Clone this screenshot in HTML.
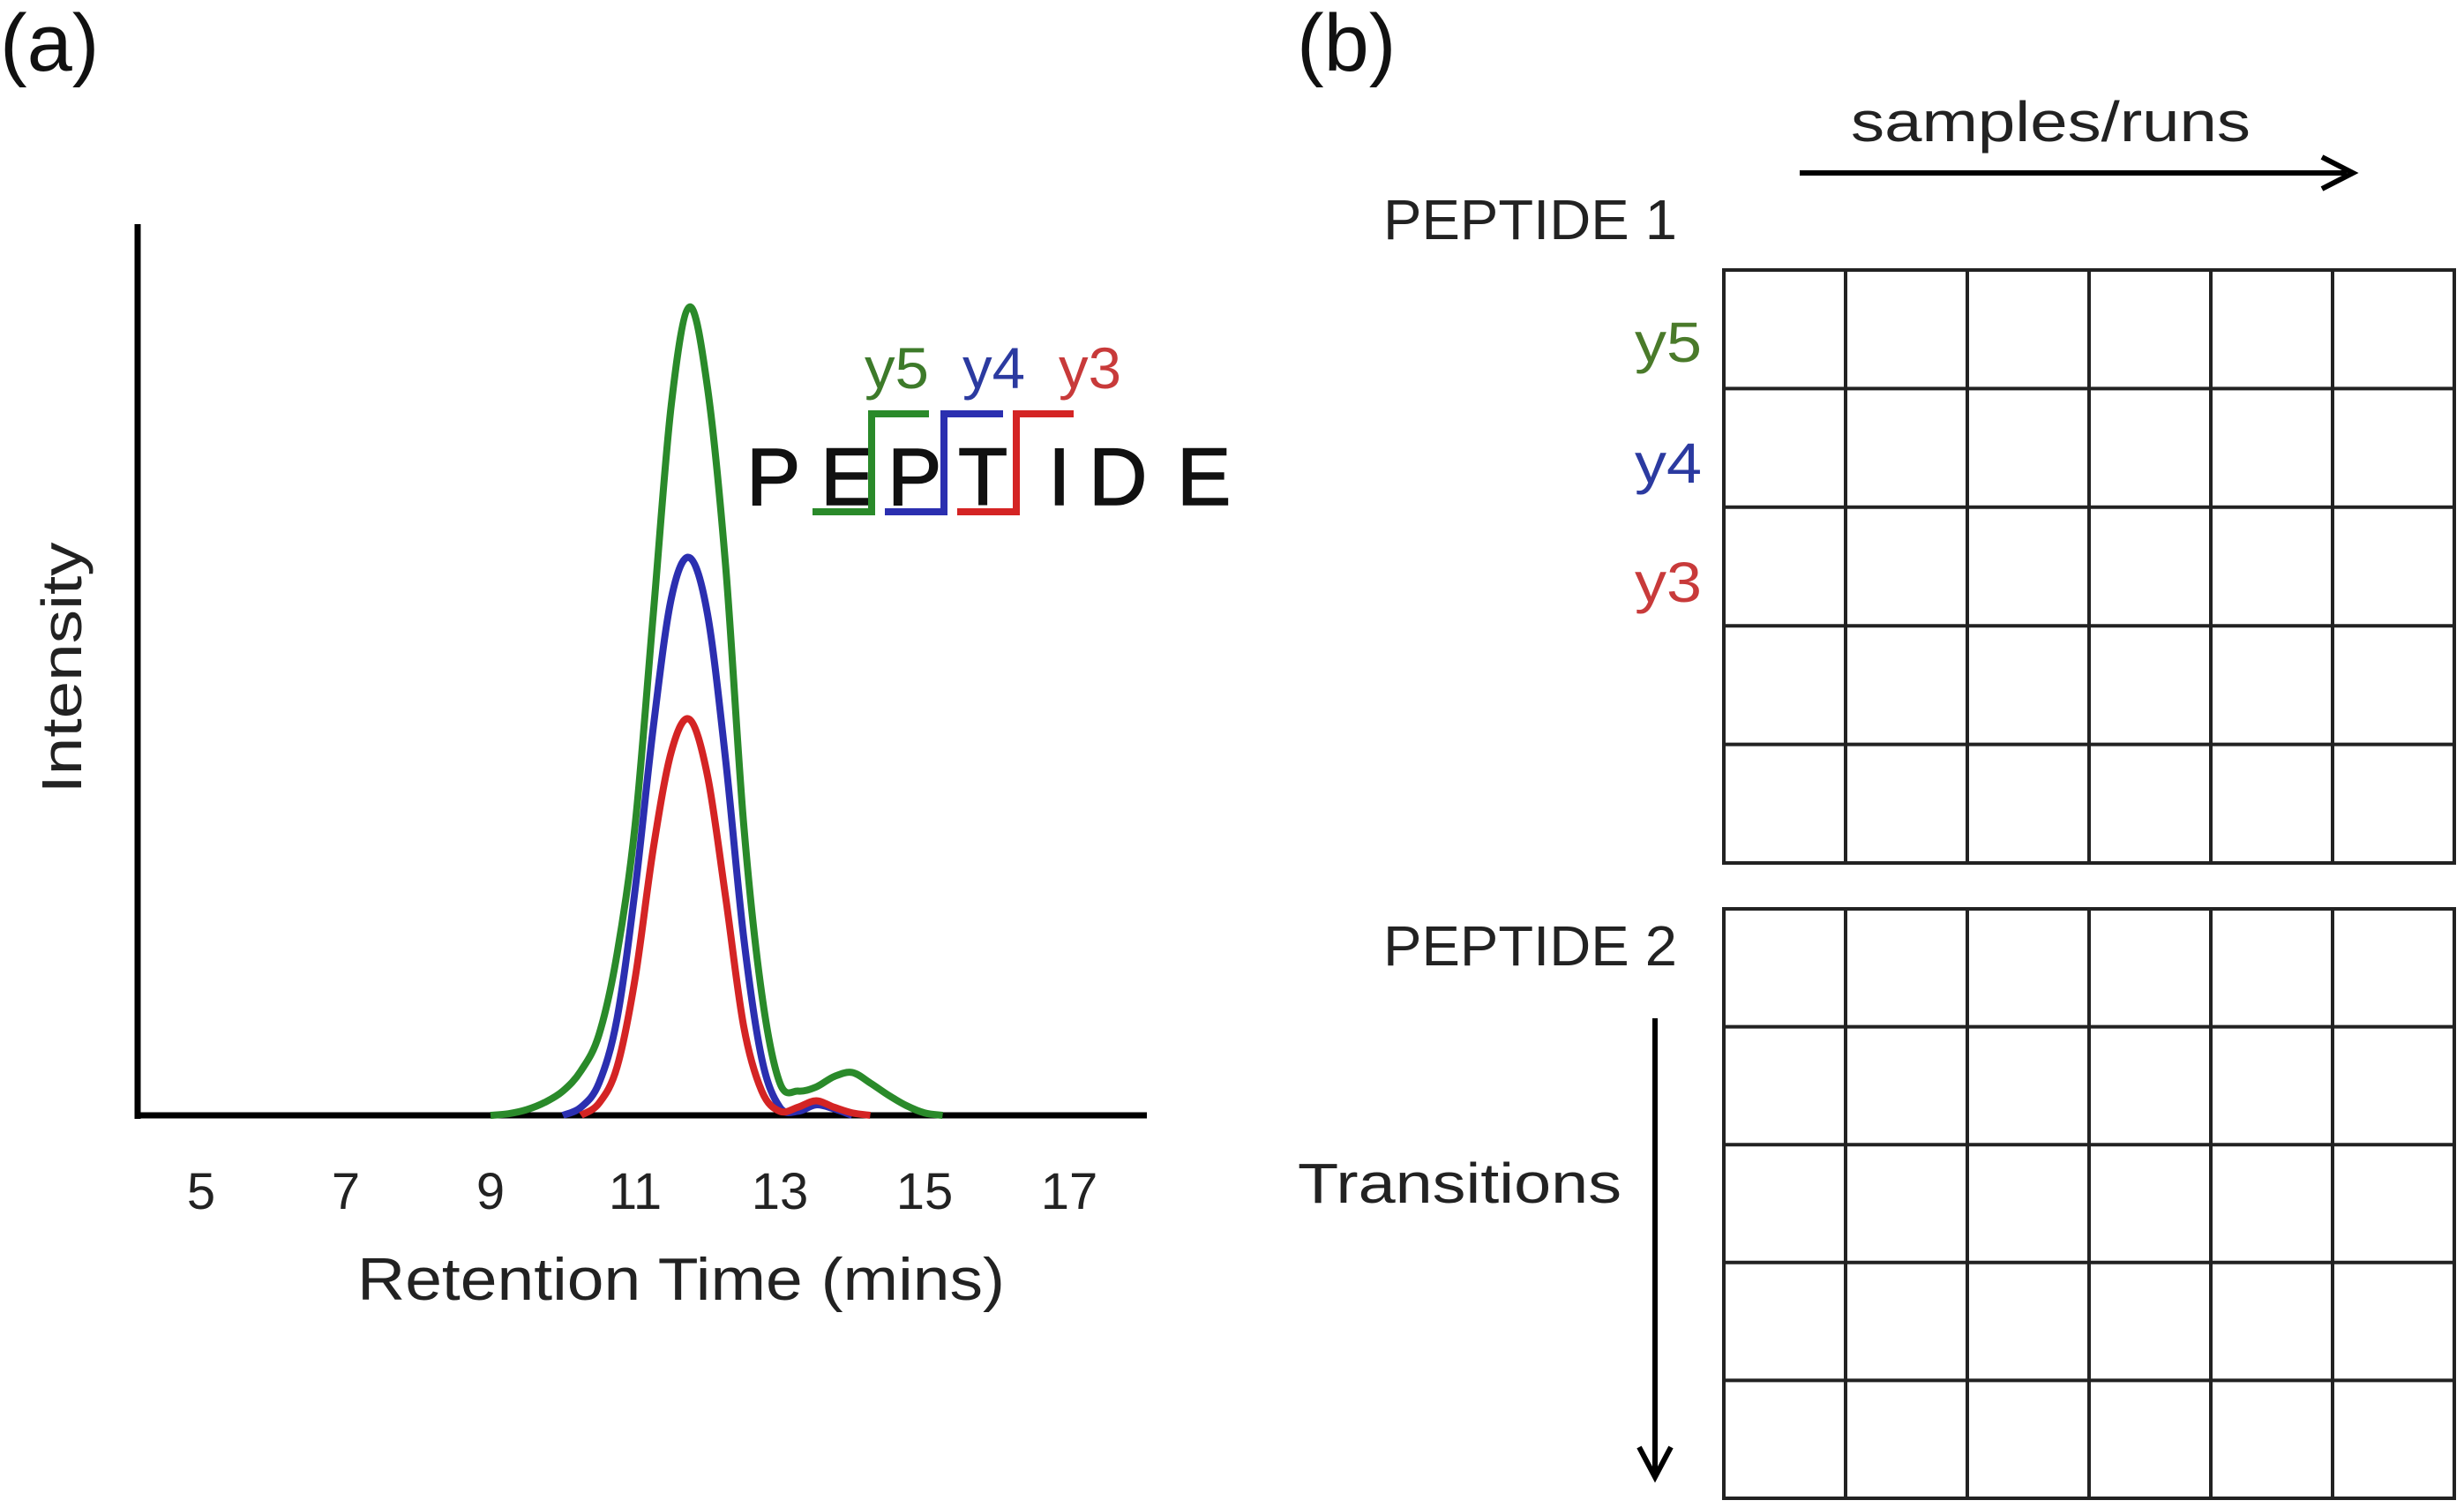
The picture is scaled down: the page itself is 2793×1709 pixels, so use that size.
<!DOCTYPE html>
<html><head><meta charset="utf-8"><style>
html,body{margin:0;padding:0;background:#fff;}
svg{display:block;font-family:"Liberation Sans",sans-serif;}
</style></head><body>
<svg id="fig" width="2793" height="1709" viewBox="0 0 2793 1709" xmlns="http://www.w3.org/2000/svg">
<text x="0" y="80" font-size="92" fill="#111">(a)</text>
<text x="1470" y="80" font-size="92" fill="#111">(b)</text>

<g id="chart">
  <line x1="156" y1="254" x2="156" y2="1268" stroke="#000" stroke-width="7"/>
  <line x1="153" y1="1264" x2="1300" y2="1264" stroke="#000" stroke-width="7"/>
  <g id="ticks"></g>
  <g id="series"></g>
  <text x="772" y="1473" font-size="68" text-anchor="middle" textLength="734" lengthAdjust="spacingAndGlyphs" fill="#222">Retention Time (mins)</text>
  <text transform="translate(92,757) rotate(-90)" font-size="64" text-anchor="middle" textLength="285" lengthAdjust="spacingAndGlyphs" fill="#222">Intensity</text>
</g>

<g>
  <g font-size="92" fill="#111" stroke="#111" stroke-width="1.5">
    <text x="846" y="572">P</text>
    <text x="930" y="572">E</text>
    <text x="1006" y="572">P</text>
    <text x="1086" y="572">T</text>
    <text x="1188" y="572">I</text>
    <text x="1234" y="572">D</text>
    <text x="1334" y="572">E</text>
  </g>
  <polyline points="921,580 988,580 988,469 1053,469" fill="none" stroke="#2a8a2a" stroke-width="8"/>
  <polyline points="1003,580 1070,580 1070,469 1137,469" fill="none" stroke="#2b2fb0" stroke-width="8"/>
  <polyline points="1085,580 1152,580 1152,469 1217,469" fill="none" stroke="#d42424" stroke-width="8"/>
  <text x="980" y="440" font-size="66" fill="#3d7a2a" textLength="73" lengthAdjust="spacingAndGlyphs">y5</text>
  <text x="1091" y="440" font-size="66" fill="#2b3aa0" textLength="71" lengthAdjust="spacingAndGlyphs">y4</text>
  <text x="1200" y="440" font-size="66" fill="#c83a3a" textLength="71" lengthAdjust="spacingAndGlyphs">y3</text>
</g>

<g>
  <text x="2098" y="160" font-size="64" fill="#222" textLength="453" lengthAdjust="spacingAndGlyphs">samples/runs</text>
  <line x1="2040" y1="196" x2="2660" y2="196" stroke="#000" stroke-width="6"/>
  <polyline points="2632,178 2667,196 2632,214" fill="none" stroke="#000" stroke-width="6"/>
  <text x="1568" y="271" font-size="64" fill="#222" textLength="333" lengthAdjust="spacingAndGlyphs">PEPTIDE 1</text>
  <text x="1568" y="1094" font-size="64" fill="#222" textLength="333" lengthAdjust="spacingAndGlyphs">PEPTIDE 2</text>
  <text x="1853" y="410" font-size="64" fill="#4a7a2a" textLength="76" lengthAdjust="spacingAndGlyphs">y5</text>
  <text x="1853" y="547" font-size="64" fill="#2b3aa0" textLength="76" lengthAdjust="spacingAndGlyphs">y4</text>
  <text x="1853" y="682" font-size="64" fill="#c83a3a" textLength="76" lengthAdjust="spacingAndGlyphs">y3</text>
  <text x="1471" y="1363" font-size="64" fill="#222" textLength="367" lengthAdjust="spacingAndGlyphs">Transitions</text>
  <line x1="1876" y1="1154" x2="1876" y2="1668" stroke="#000" stroke-width="6"/>
  <polyline points="1858,1640 1876,1674 1894,1640" fill="none" stroke="#000" stroke-width="6"/>
  <g id="grids"></g>
</g>
</svg>
<script>
const tickLabels = [5, 7, 9, 11, 13, 15, 17];
const times = [9.0,9.25,9.5,9.75,10.0,10.25,10.5,10.75,11.0,11.25,11.5,11.75,12.0,12.25,12.5,12.75,13.0,13.25,13.5,13.75,14.0,14.25,14.5,14.75,15.0,15.25];
const y5Values = [0,0.2,0.7,1.6,3,5.5,10,20,36,62,88,100,90,68,36,15,4,3,3.5,4.8,5.3,4,2.5,1.2,0.3,0];
const y4Values = [0,0,0,0,0,1,4,12,28,48,64,69,62,44,22,7,1,0.5,1.3,0.8,0,0,0,0,0,0];
const y3Values = [0,0,0,0,0,0,1.5,6,17,33,45,49,42,27,11,3,0.5,1,1.8,1,0.3,0,0,0,0,0];
const seriesNames = ['y5','y4','y3'];
const seriesColors = ['#2a8a2a','#2b2fb0','#d42424'];

const NS = 'http://www.w3.org/2000/svg';
function xScale(t){ return 228 + (t - 5) * 82; }
function yScale(v){ return 1264 - v * 9.16; }

const ticksG = document.getElementById('ticks');
tickLabels.forEach(function(t){
  const tx = document.createElementNS(NS,'text');
  tx.setAttribute('x', xScale(t));
  tx.setAttribute('y', 1370);
  tx.setAttribute('font-size', 58);
  tx.setAttribute('text-anchor','middle');
  tx.setAttribute('fill','#222');
  tx.textContent = t;
  
  
  ticksG.appendChild(tx);
});

function smoothPath(pts){
  let d = 'M' + pts[0][0] + ',' + pts[0][1];
  for (let i = 0; i < pts.length - 1; i++){
    const p0 = pts[i-1] || pts[i], p1 = pts[i], p2 = pts[i+1], p3 = pts[i+2] || p2;
    const c1x = p1[0] + (p2[0]-p0[0])/6, c1y = p1[1] + (p2[1]-p0[1])/6;
    const c2x = p2[0] - (p3[0]-p1[0])/6, c2y = p2[1] - (p3[1]-p1[1])/6;
    d += ' C' + c1x + ',' + c1y + ' ' + c2x + ',' + c2y + ' ' + p2[0] + ',' + p2[1];
  }
  return d;
}
const seriesG = document.getElementById('series');
[y5Values, y4Values, y3Values].forEach(function(vals, k){
  const pts = [];
  times.forEach(function(t, i){
    const lead = k === 0 ? true : (vals[i] > 0 || vals[i+1] > 0 || vals[i-1] > 0);
    if (lead) pts.push([xScale(t), yScale(vals[i])]);
  });
  const p = document.createElementNS(NS,'path');
  p.setAttribute('d', smoothPath(pts));
  p.setAttribute('fill','none');
  p.setAttribute('stroke', seriesColors[k]);
  p.setAttribute('stroke-width', 8);
  p.setAttribute('stroke-linejoin','round');
  
  
  seriesG.appendChild(p);
});

const gridsG = document.getElementById('grids');
[[306,978],[1030,1698]].forEach(function(b, gi){
  const left = 1954, right = 2782, cols = 6, rows = 5;
  const g = document.createElementNS(NS,'g');
  
  
  for (let c = 0; c <= cols; c++){
    const x = left + (right-left)*c/cols;
    const l = document.createElementNS(NS,'line');
    l.setAttribute('x1', x); l.setAttribute('x2', x);
    l.setAttribute('y1', b[0]); l.setAttribute('y2', b[1]);
    l.setAttribute('stroke','#222'); l.setAttribute('stroke-width', 4);
    
    
    g.appendChild(l);
  }
  for (let r = 0; r <= rows; r++){
    const y = b[0] + (b[1]-b[0])*r/rows;
    const l = document.createElementNS(NS,'line');
    l.setAttribute('x1', left-2); l.setAttribute('x2', right+2);
    l.setAttribute('y1', y); l.setAttribute('y2', y);
    l.setAttribute('stroke','#222'); l.setAttribute('stroke-width', 4);
    
    
    g.appendChild(l);
  }
  gridsG.appendChild(g);
});
</script>
</body></html>
